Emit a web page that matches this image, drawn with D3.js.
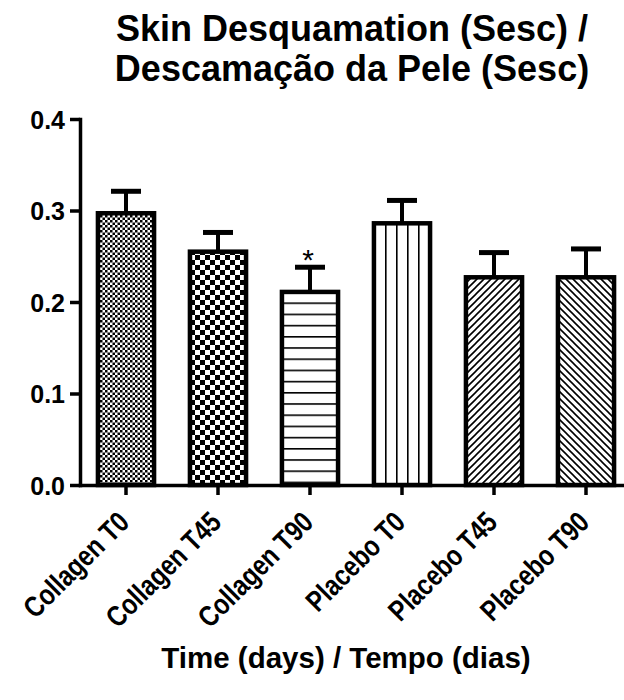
<!DOCTYPE html>
<html>
<head>
<meta charset="utf-8">
<script src="https://cdn.jsdelivr.net/npm/d3@7"></script>
<style>
  body { margin: 0; background: #fff; }
  svg { display: block; font-family: Arial, "Liberation Sans", sans-serif; }
</style>
</head>
<body>
<div class="chart"></div>
<script>
// Data
const categories = ["Collagen T0", "Collagen T45", "Collagen T90", "Placebo T0", "Placebo T45", "Placebo T90"];
const means = [0.297, 0.255, 0.211, 0.286, 0.227, 0.227];
const errors = [0.024, 0.021, 0.027, 0.025, 0.027, 0.031];
const fills = ["fineChecker", "coarseChecker", "hLines", "vLines", "diagUp", "diagDown"];
const marks = ["", "", "*", "", "", ""];
const yTicks = [0, 0.1, 0.2, 0.3, 0.4];

const W = 624, H = 700;
const svg = d3.select(".chart").append("svg")
    .attr("width", W)
    .attr("height", H);

// hatch patterns
const defs = svg.append("defs");

function pattern(id, w, h) {
  const p = defs.append("pattern")
      .attr("id", id)
      .attr("patternUnits", "userSpaceOnUse")
      .attr("width", w)
      .attr("height", h);
  p.append("rect").attr("width", w).attr("height", h).attr("fill", "#fff");
  return p;
}

let p = pattern("fineChecker", 5, 5);
p.append("rect").attr("width", 2.5).attr("height", 2.5).attr("fill", "#000");
p.append("rect").attr("x", 2.5).attr("y", 2.5).attr("width", 2.5).attr("height", 2.5).attr("fill", "#000");

p = pattern("coarseChecker", 10, 10);
p.append("rect").attr("width", 5).attr("height", 5).attr("fill", "#000");
p.append("rect").attr("x", 5).attr("y", 5).attr("width", 5).attr("height", 5).attr("fill", "#000");

p = pattern("hLines", 10, 11.2);
p.append("rect").attr("y", 0).attr("width", 10).attr("height", 1.6).attr("fill", "#000");

p = pattern("vLines", 11, 10);
p.append("rect").attr("x", 0).attr("width", 1.6).attr("height", 10).attr("fill", "#000");

p = pattern("diagUp", 7, 7);
p.append("path").attr("d", "M-1,1 l2,-2 M0,7 l7,-7 M6,8 l2,-2")
    .attr("stroke", "#000").attr("stroke-width", 1.6);

p = pattern("diagDown", 7, 7);
p.append("path").attr("d", "M-1,6 l2,2 M0,0 l7,7 M6,-1 l2,2")
    .attr("stroke", "#000").attr("stroke-width", 1.6);

// scales
const x = d3.scaleBand()
    .domain(categories)
    .range([80, 632])
    .paddingInner(0.39)
    .paddingOuter(0.195);

const y = d3.scaleLinear()
    .domain([0, 0.4])
    .range([485, 119]);

// title
svg.append("text")
    .attr("x", 352)
    .attr("text-anchor", "middle")
    .style("font-size", "36px")
    .style("font-weight", "bold")
    .selectAll("tspan")
    .data(["Skin Desquamation (Sesc) /", "Descamação da Pele (Sesc)"])
    .enter().append("tspan")
    .attr("x", 352)
    .attr("y", (d, i) => 41 + i * 40)
    .text(d => d);

// bars
const bars = svg.append("g");
bars.selectAll("rect")
    .data(means)
    .enter().append("rect")
    .attr("x", (d, i) => x(categories[i]))
    .attr("y", d => y(d))
    .attr("width", x.bandwidth())
    .attr("height", d => y(0) - y(d))
    .attr("fill", (d, i) => `url(#${fills[i]})`)
    .attr("stroke", "#000")
    .attr("stroke-width", 4.5);

// error bars (upper only)
const err = svg.append("g").attr("stroke", "#000");
categories.forEach((c, i) => {
  const cx = x(c) + x.bandwidth() / 2;
  err.append("line")
      .attr("x1", cx).attr("x2", cx)
      .attr("y1", y(means[i]))
      .attr("y2", y(means[i] + errors[i]))
      .attr("stroke-width", 4);
  err.append("line")
      .attr("x1", cx - 15).attr("x2", cx + 15)
      .attr("y1", y(means[i] + errors[i]))
      .attr("y2", y(means[i] + errors[i]))
      .attr("stroke-width", 5);
  if (marks[i]) {
    svg.append("text")
        .attr("x", cx - 2)
        .attr("y", y(means[i] + errors[i]) + 3)
        .attr("text-anchor", "middle")
        .style("font-size", "30px")
        .text(marks[i]);
  }
});

// y axis
const yAxis = svg.append("g")
    .attr("transform", "translate(80,0)")
    .call(d3.axisLeft(y).tickValues(yTicks).tickFormat(d3.format(".1f"))
      .tickSize(10).tickSizeOuter(0).tickPadding(5));

// x axis
const xAxis = svg.append("g")
    .attr("transform", `translate(0,${y(0)})`)
    .call(d3.axisBottom(x).tickSize(10).tickSizeOuter(0));

xAxis.selectAll(".tick text")
    .attr("text-anchor", "end")
    .attr("transform", "translate(5,39) rotate(-45) scale(0.92,1.12)")
    .attr("y", 0)
    .attr("dy", 0);

[yAxis, xAxis].forEach(a => {
  a.select(".domain").attr("stroke", "#000").attr("stroke-width", 3.5)
      .attr("stroke-linecap", "square");
  a.selectAll(".tick line").attr("stroke", "#000").attr("stroke-width", 3.5);
  a.selectAll(".tick text")
      .attr("fill", "#000")
      .style("font-family", "Arial, 'Liberation Sans', sans-serif")
      .style("font-weight", "bold");
});
yAxis.selectAll(".tick text")
    .style("font-size", "25px")
    .attr("dy", "0.36em");
xAxis.selectAll(".tick text").style("font-size", "26px");

// x axis title
svg.append("text")
    .attr("x", 346)
    .attr("y", 668)
    .attr("text-anchor", "middle")
    .style("font-size", "29.5px")
    .style("font-weight", "bold")
    .text("Time (days) / Tempo (dias)");
</script>
</body>
</html>
